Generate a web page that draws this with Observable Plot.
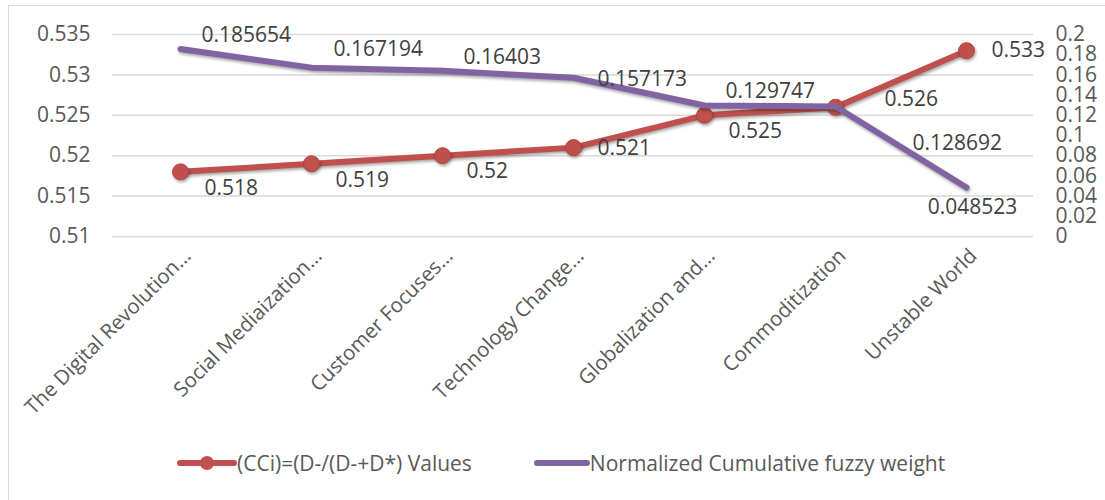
<!DOCTYPE html>
<html>
<head>
<meta charset="utf-8">
<script src="https://cdn.jsdelivr.net/npm/d3@7"></script>
<script src="https://cdn.jsdelivr.net/npm/@observablehq/plot@0.6"></script>
<style>
  html, body { margin: 0; padding: 0; background: #fff; overflow: hidden; width: 1105px; height: 500px; }
  body { font-family: "Open Sans", Lato, sans-serif; position: relative; }
  #frame { position: absolute; left: 8px; top: 5px; width: 1200px; height: 600px; border: 1.5px solid #d9d9d9; pointer-events: none; }
  #chart { position: absolute; left: 0; top: 0; }
  #chart svg g[aria-label="line"] path { filter: drop-shadow(1px 2px 1.5px rgba(0,0,0,0.35)); }
  #chart svg g[aria-label="dot"] circle { filter: drop-shadow(1px 2px 1.5px rgba(0,0,0,0.35)); }
  #legend { position: absolute; top: 449px; left: 177px; display: flex; align-items: center; font-size: 21px; color: #595959; }
  #legend .item { display: flex; align-items: center; }
  #legend svg { display: block; }
</style>
</head>
<body>
<div id="chart"></div>
<div id="legend"></div>
<div id="frame"></div>
<script>
const categories = ["The Digital Revolution...", "Social Mediaization...", "Customer Focuses...", "Technology Change...", "Globalization and...", "Commoditization", "Unstable World"];
const cciValues = [0.518, 0.519, 0.52, 0.521, 0.525, 0.526, 0.533];
const fuzzyWeights = [0.185654, 0.167194, 0.16403, 0.157173, 0.129747, 0.128692, 0.048523];
const leftTicks = [0.51, 0.515, 0.52, 0.525, 0.53, 0.535];
const rightTicks = [0, 0.02, 0.04, 0.06, 0.08, 0.1, 0.12, 0.14, 0.16, 0.18, 0.2];
const seriesNames = ["(CCi)=(D-/(D-+D*) Values", "Normalized Cumulative fuzzy weight"];

const leftDomain = [0.51, 0.535];
const rightDomain = [0, 0.2];
const toLeft = v => leftDomain[0] + (v - rightDomain[0]) / (rightDomain[1] - rightDomain[0]) * (leftDomain[1] - leftDomain[0]);
const fromLeft = v => rightDomain[0] + (v - leftDomain[0]) / (leftDomain[1] - leftDomain[0]) * (rightDomain[1] - rightDomain[0]);

const rows = categories.map((c, i) => ({cat: c, cci: cciValues[i], w: fuzzyWeights[i], wy: toLeft(fuzzyWeights[i]), i}));

const red = "#C0504D", purple = "#8064A2", labelColor = "#404040";
const font = "'Open Sans', Lato, sans-serif";

function labels(idx, yField, textField, opts) {
  return Plot.text(rows.filter(d => idx.includes(d.i)), {
    x: "cat", y: yField, text: d => String(d[textField]),
    fill: labelColor, fontSize: 21, textAnchor: "start", ...opts
  });
}

const chart = Plot.plot({
  width: 1105, height: 430,
  marginLeft: 112, marginRight: 72, marginTop: 34, marginBottom: 194,
  x: {type: "point", domain: categories, padding: 0.5},
  y: {domain: leftDomain},
  style: {fontFamily: font, fontSize: "21px", color: "#595959", background: "transparent"},
  marks: [
    Plot.gridY(leftTicks, {stroke: "#d9d9d9", strokeOpacity: 1, strokeWidth: 1.5}),
    Plot.axisY(leftTicks, {anchor: "left", tickSize: 0, tickPadding: 22, fontSize: 21, fill: "#595959", tickFormat: d => String(d)}),
    Plot.axisY(rightTicks.map(toLeft), {anchor: "right", tickSize: 0, tickPadding: 22, fontSize: 21, fill: "#595959", tickFormat: d => String(+fromLeft(d).toFixed(3))}),
    Plot.axisX({anchor: "bottom", tickRotate: -45, tickSize: 0, tickPadding: 16, dx: 7, fontSize: 20.5, fill: "#595959", label: null}),
    Plot.line(rows, {x: "cat", y: "cci", stroke: red, strokeWidth: 6, strokeLinejoin: "round", strokeLinecap: "round"}),
    Plot.dot(rows, {x: "cat", y: "cci", r: 8, fill: red, stroke: "#B5413E", strokeWidth: 1}),
    Plot.line(rows, {x: "cat", y: "wy", stroke: purple, strokeWidth: 6, strokeLinejoin: "round", strokeLinecap: "round"}),
    // red data labels
    labels([0, 1, 2, 4], "cci", "cci", {dx: 24, dy: 16}),
    labels([3], "cci", "cci", {dx: 24, dy: 1}),
    labels([5], "cci", "cci", {dx: 49, dy: -8}),
    labels([6], "cci", "cci", {dx: 25, dy: 0}),
    // purple data labels
    labels([0, 2, 4], "wy", "w", {dx: 21, dy: -14}),
    labels([1], "wy", "w", {dx: 22, dy: -18}),
    labels([3], "wy", "w", {dx: 24, dy: 2}),
    labels([5], "wy", "w", {dx: 77, dy: 37}),
    labels([6], "wy", "w", {dx: 6, dy: 20, textAnchor: "middle"})
  ]
});
document.getElementById("chart").appendChild(chart);

const legend = document.getElementById("legend");
legend.innerHTML = `
  <div class="item">
    <svg width="60" height="20"><line x1="3" y1="10" x2="57" y2="10" stroke="${red}" stroke-width="6" stroke-linecap="round"/><circle cx="30" cy="10" r="7" fill="${red}"/></svg>
    <span>${seriesNames[0]}</span>
  </div>
  <div class="item" style="margin-left:62px">
    <svg width="56" height="20"><line x1="3" y1="10" x2="53" y2="10" stroke="${purple}" stroke-width="6" stroke-linecap="round"/></svg>
    <span>${seriesNames[1]}</span>
  </div>`;
</script>
</body>
</html>
